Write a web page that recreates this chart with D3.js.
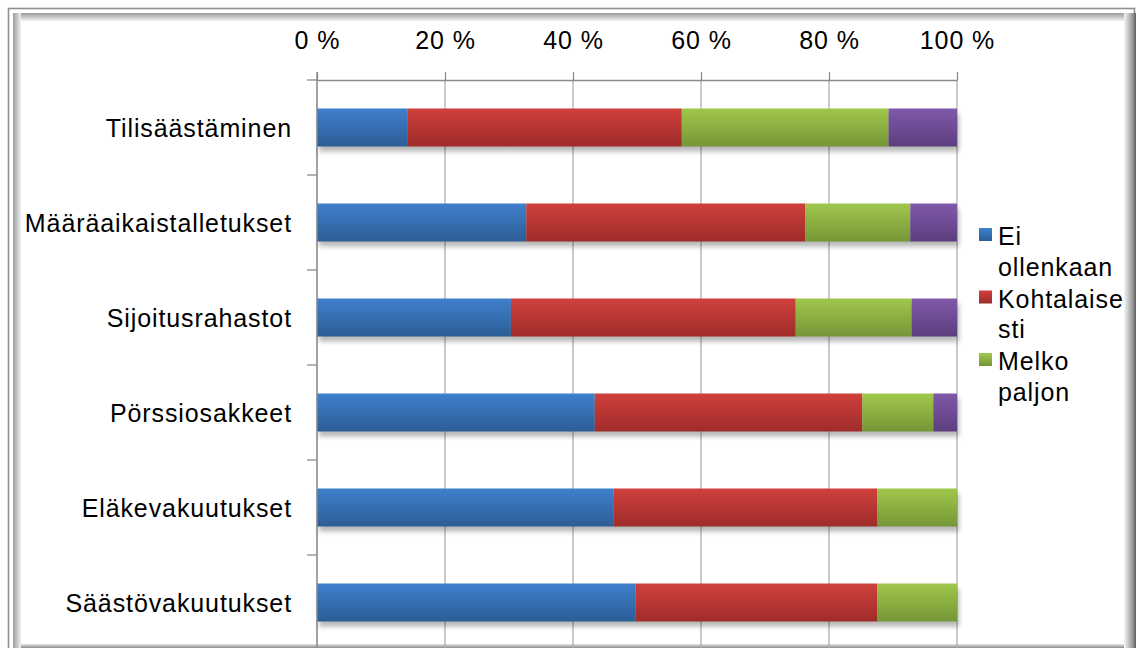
<!DOCTYPE html>
<html>
<head>
<meta charset="utf-8">
<script src="https://cdn.jsdelivr.net/npm/d3@7"></script>
<style>
  html, body { margin: 0; padding: 0; background: #fff; }
  svg { display: block; }
  text { font-family: "Liberation Sans", Arial, sans-serif; fill: #000; }
</style>
</head>
<body>
<svg id="chart" width="1139" height="648"></svg>
<script>
// Savings products and how much each is used (share of respondents, %)
const categories = ["Tilisäästäminen", "Määräaikaistalletukset", "Sijoitusrahastot",
                    "Pörssiosakkeet", "Eläkevakuutukset", "Säästövakuutukset"];
const seriesNames = ["Ei ollenkaan", "Kohtalaisesti", "Melko paljon", "Erittäin paljon"];
const eiOllenkaan    = [14.2, 32.7, 30.3, 43.4, 46.3, 49.8];
const kohtalaisesti  = [42.8, 43.6, 44.5, 41.8, 41.2, 37.7];
const melkoPaljon    = [32.3, 16.4, 18.1, 11.1, 12.5, 12.5];
const erittainPaljon = [10.7,  7.3,  7.1,  3.7,  0.0,  0.0];
const xTicks = [0, 20, 40, 60, 80, 100];
// legend text as wrapped in the narrow legend box
const legendLines = [["Ei", "ollenkaan"], ["Kohtalaise", "sti"], ["Melko", "paljon"]];

const seriesValues = [eiOllenkaan, kohtalaisesti, melkoPaljon, erittainPaljon];
const colors = [
  { top: "#3f80cd", bottom: "#2c5d96" },
  { top: "#d0403c", bottom: "#9e2c2a" },
  { top: "#a0c74c", bottom: "#759637" },
  { top: "#8059aa", bottom: "#5c3e7e" }
];

const rows = categories.map((c, i) => {
  const r = { category: c };
  seriesNames.forEach((s, k) => { r[s] = seriesValues[k][i]; });
  return r;
});

const svg = d3.select("#chart");
const W = 1139, H = 648;
const FONT = 25, LS = "0.9px";

const defs = svg.append("defs");
colors.forEach((c, k) => {
  const g = defs.append("linearGradient").attr("id", "grad" + k)
    .attr("x1", 0).attr("y1", 0).attr("x2", 0).attr("y2", 1);
  g.append("stop").attr("offset", "0%").attr("stop-color", c.top);
  g.append("stop").attr("offset", "100%").attr("stop-color", c.bottom);
});
function lin(id, x2, y2, stops) {
  const g = defs.append("linearGradient").attr("id", id)
    .attr("x1", 0).attr("y1", 0).attr("x2", x2).attr("y2", y2);
  stops.forEach(([o, c]) => g.append("stop").attr("offset", o).attr("stop-color", c));
}
lin("bevTop", 0, 1, [["0%", "#9a9a9a"], ["100%", "#f2f2f2"]]);
lin("bevLeft", 1, 0, [["0%", "#9a9a9a"], ["100%", "#f2f2f2"]]);
lin("bevRight", 1, 0, [["0%", "#f6f6f6"], ["70%", "#9a9a9a"], ["100%", "#5e5e5e"]]);
lin("bevBottom", 0, 1, [["0%", "#e6e6e6"], ["100%", "#8a8a8a"]]);
defs.append("filter").attr("id", "shadow")
  .attr("x", "-5%").attr("y", "-50%").attr("width", "110%").attr("height", "200%")
  .append("feGaussianBlur").attr("stdDeviation", 2.6);

// picture frame
svg.append("rect").attr("width", W).attr("height", H).attr("fill", "#fff");
svg.append("rect").attr("x", 8.5).attr("y", 8.5).attr("width", 1126).attr("height", 660)
  .attr("fill", "none").attr("stroke", "#8f8f8f").attr("stroke-width", 1.6);
svg.append("rect").attr("x", 13).attr("y", 13).attr("width", 1113).attr("height", 8).attr("fill", "url(#bevTop)");
svg.append("rect").attr("x", 13).attr("y", 13).attr("width", 8).attr("height", 640).attr("fill", "url(#bevLeft)");
svg.append("rect").attr("x", 1124).attr("y", 13).attr("width", 12).attr("height", 640).attr("fill", "url(#bevRight)");
svg.append("rect").attr("x", 21).attr("y", 644).attr("width", 1103).attr("height", 4).attr("fill", "url(#bevBottom)");

// scales
const x = d3.scaleLinear().domain([0, 100]).range([317, 957]);
const y = d3.scaleBand().domain(categories).range([80, 650]).paddingInner(0.6).paddingOuter(0.3);

// vertical gridlines
svg.append("g").selectAll("line").data(xTicks).join("line")
  .attr("x1", d => x(d)).attr("x2", d => x(d))
  .attr("y1", 80).attr("y2", 650)
  .attr("stroke", "#a8a8a8").attr("stroke-width", 1.2);

const stack = d3.stack().keys(seriesNames);
const stacked = stack(rows);

// soft shadow under each full bar
svg.append("g").selectAll("rect").data(rows).join("rect")
  .attr("x", x(0) + 2)
  .attr("y", d => y(d.category) + 5)
  .attr("width", d => x(d3.sum(seriesNames, s => d[s])) - x(0))
  .attr("height", y.bandwidth())
  .attr("fill", "#000").attr("opacity", 0.28)
  .attr("filter", "url(#shadow)");

// stacked bars
svg.append("g").selectAll("g").data(stacked).join("g")
  .attr("fill", (d, k) => `url(#grad${k})`)
  .selectAll("rect").data(d => d.filter(p => p[1] - p[0] > 0)).join("rect")
  .attr("x", p => x(p[0]))
  .attr("y", p => y(p.data.category))
  .attr("width", p => x(p[1]) - x(p[0]))
  .attr("height", y.bandwidth());

// top percentage axis
const xAxis = svg.append("g").attr("transform", "translate(0,80)")
  .call(d3.axisTop(x).tickValues(xTicks).tickSize(8).tickSizeOuter(0).tickPadding(23)
    .tickFormat(d => d + " %"));
xAxis.selectAll("path.domain").attr("stroke", "#8a8a8a").attr("stroke-width", 1.3);
xAxis.selectAll(".tick line").attr("stroke", "#8a8a8a").attr("stroke-width", 1.3);
xAxis.selectAll("text").attr("font-size", FONT).style("letter-spacing", LS)
  .attr("font-family", "Liberation Sans, Arial, sans-serif").attr("fill", "#000");

// left category axis: line with ticks on band boundaries
const half = (y.step() - y.bandwidth()) / 2;
const bounds = categories.map(c => y(c) - half).concat([y(categories[categories.length - 1]) + y.bandwidth() + half]);
const left = svg.append("g");
left.append("line").attr("x1", x(0)).attr("x2", x(0)).attr("y1", 72).attr("y2", 650)
  .attr("stroke", "#8a8a8a").attr("stroke-width", 1.3);
left.selectAll("line.b").data(bounds).join("line").attr("class", "b")
  .attr("x1", x(0) - 10).attr("x2", x(0)).attr("y1", d => d).attr("y2", d => d)
  .attr("stroke", "#8a8a8a").attr("stroke-width", 1.3);

const yAxis = svg.append("g").attr("transform", `translate(${x(0)},0)`)
  .call(d3.axisLeft(y).tickSize(0).tickPadding(25));
yAxis.select("path.domain").remove();
yAxis.selectAll("text").attr("font-size", FONT).style("letter-spacing", LS)
  .attr("dy", "0.36em")
  .attr("font-family", "Liberation Sans, Arial, sans-serif").attr("fill", "#000");

// legend
const legend = svg.append("g").attr("transform", "translate(979,0)");
const entryTop = [245, 307.5, 370];
legendLines.forEach((lines, k) => {
  const g = legend.append("g").attr("transform", `translate(0,${entryTop[k]})`);
  g.append("rect").attr("x", 0).attr("y", -17).attr("width", 13).attr("height", 13)
    .attr("fill", `url(#grad${k})`);
  g.selectAll("text").data(lines).join("text")
    .attr("x", 19).attr("y", (d, i) => i * 30.5)
    .attr("font-size", FONT).style("letter-spacing", LS)
    .text(d => d);
});
</script>
</body>
</html>
